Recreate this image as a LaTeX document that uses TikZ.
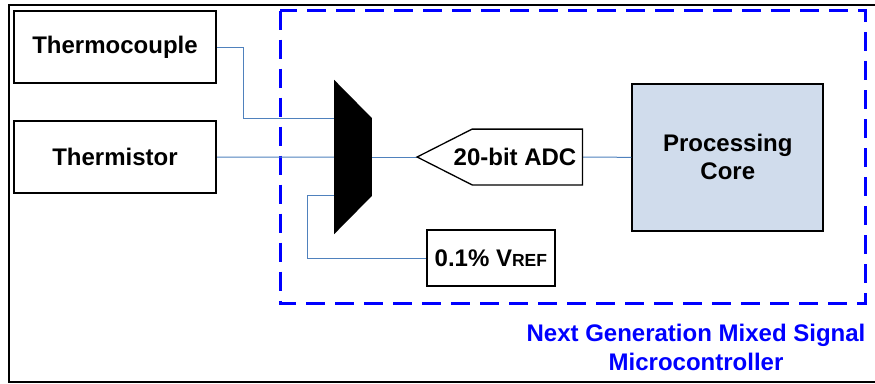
\documentclass[tikz,border=0pt]{standalone}
\usepackage{fontspec}
\setmainfont{Liberation Sans}
\usetikzlibrary{calc}
\definecolor{wireblue}{RGB}{79,129,189}
\definecolor{coreblue}{RGB}{208,220,236}
\definecolor{mcublue}{RGB}{0,0,255}
\begin{document}
\begin{tikzpicture}[x=1pt,y=-1pt,
  txt/.style={font=\bfseries\fontsize{24}{28}\selectfont},
  box/.style={txt, draw=black, line width=2pt, inner sep=0pt},
  ghost/.style={inner sep=0pt},
  wire/.style={draw=wireblue, line width=1pt},
  dashbox/.style={draw=mcublue, line width=3pt, dash pattern=on 19pt off 10pt}]
\useasboundingbox (0,0) rectangle (875,383);
% outer frame
\draw[line width=2pt] (875,5) -- (9,5) -- (9,381.5) -- (875,381.5);
% dashed microcontroller boundary
\draw[dashbox] (280,10.7) rectangle (865.7,303.3);
% nodes
\node[box, minimum width=202, minimum height=72.6] (tc) at (115,47) {Thermocouple};
\node[box, minimum width=202, minimum height=72.3] (th) at (115,157.2) {Thermistor};
\node[box, fill=coreblue, align=center, minimum width=191, minimum height=146.7] (core) at (727.8,157.35) {Processing\\Core};
\node[box, minimum width=128.3, minimum height=56] (vref) at (490.85,258) {0.1\% V{\fontsize{17.5}{20}\selectfont REF}};
\node[ghost, minimum width=37.4, minimum height=154] (mux) at (353,157) {};
\node[ghost, minimum width=165, minimum height=55.4] (adc) at (499.8,157) {};
% wires
\draw[wire] (tc.east) -| ($(mux.west)+(-91,-38.3)$) -- ($(mux.west)+(0,-38.3)$);
\draw[wire] (th.east) -- (mux.west);
\draw[wire] ($(mux.west)+(0,38.7)$) -- ++(-27,0) |- (vref.west);
\draw[wire] (mux.east) -- (adc.west);
\draw[wire] (adc.east) -- (core.west);
% multiplexer
\fill[black] (mux.north west) -- ($(mux.north east)+(0,38.3)$) -- ($(mux.south east)+(0,-38.3)$) -- (mux.south west) -- cycle;
% ADC
\draw[line width=1.3pt, fill=white] (adc.west) -- ($(adc.north west)+(55,0)$) -- (adc.north east) -- (adc.south east) -- ($(adc.south west)+(55,0)$) -- cycle;
\node[txt, inner sep=0pt] (adclabel) at (515,157) {20-bit ADC};
% label
\node[txt, text=mcublue, align=center, inner sep=0pt, font=\bfseries\fontsize{24}{29}\selectfont] (mcu) at (696,347.5) {Next Generation Mixed Signal\\Microcontroller};
\end{tikzpicture}
\end{document}
